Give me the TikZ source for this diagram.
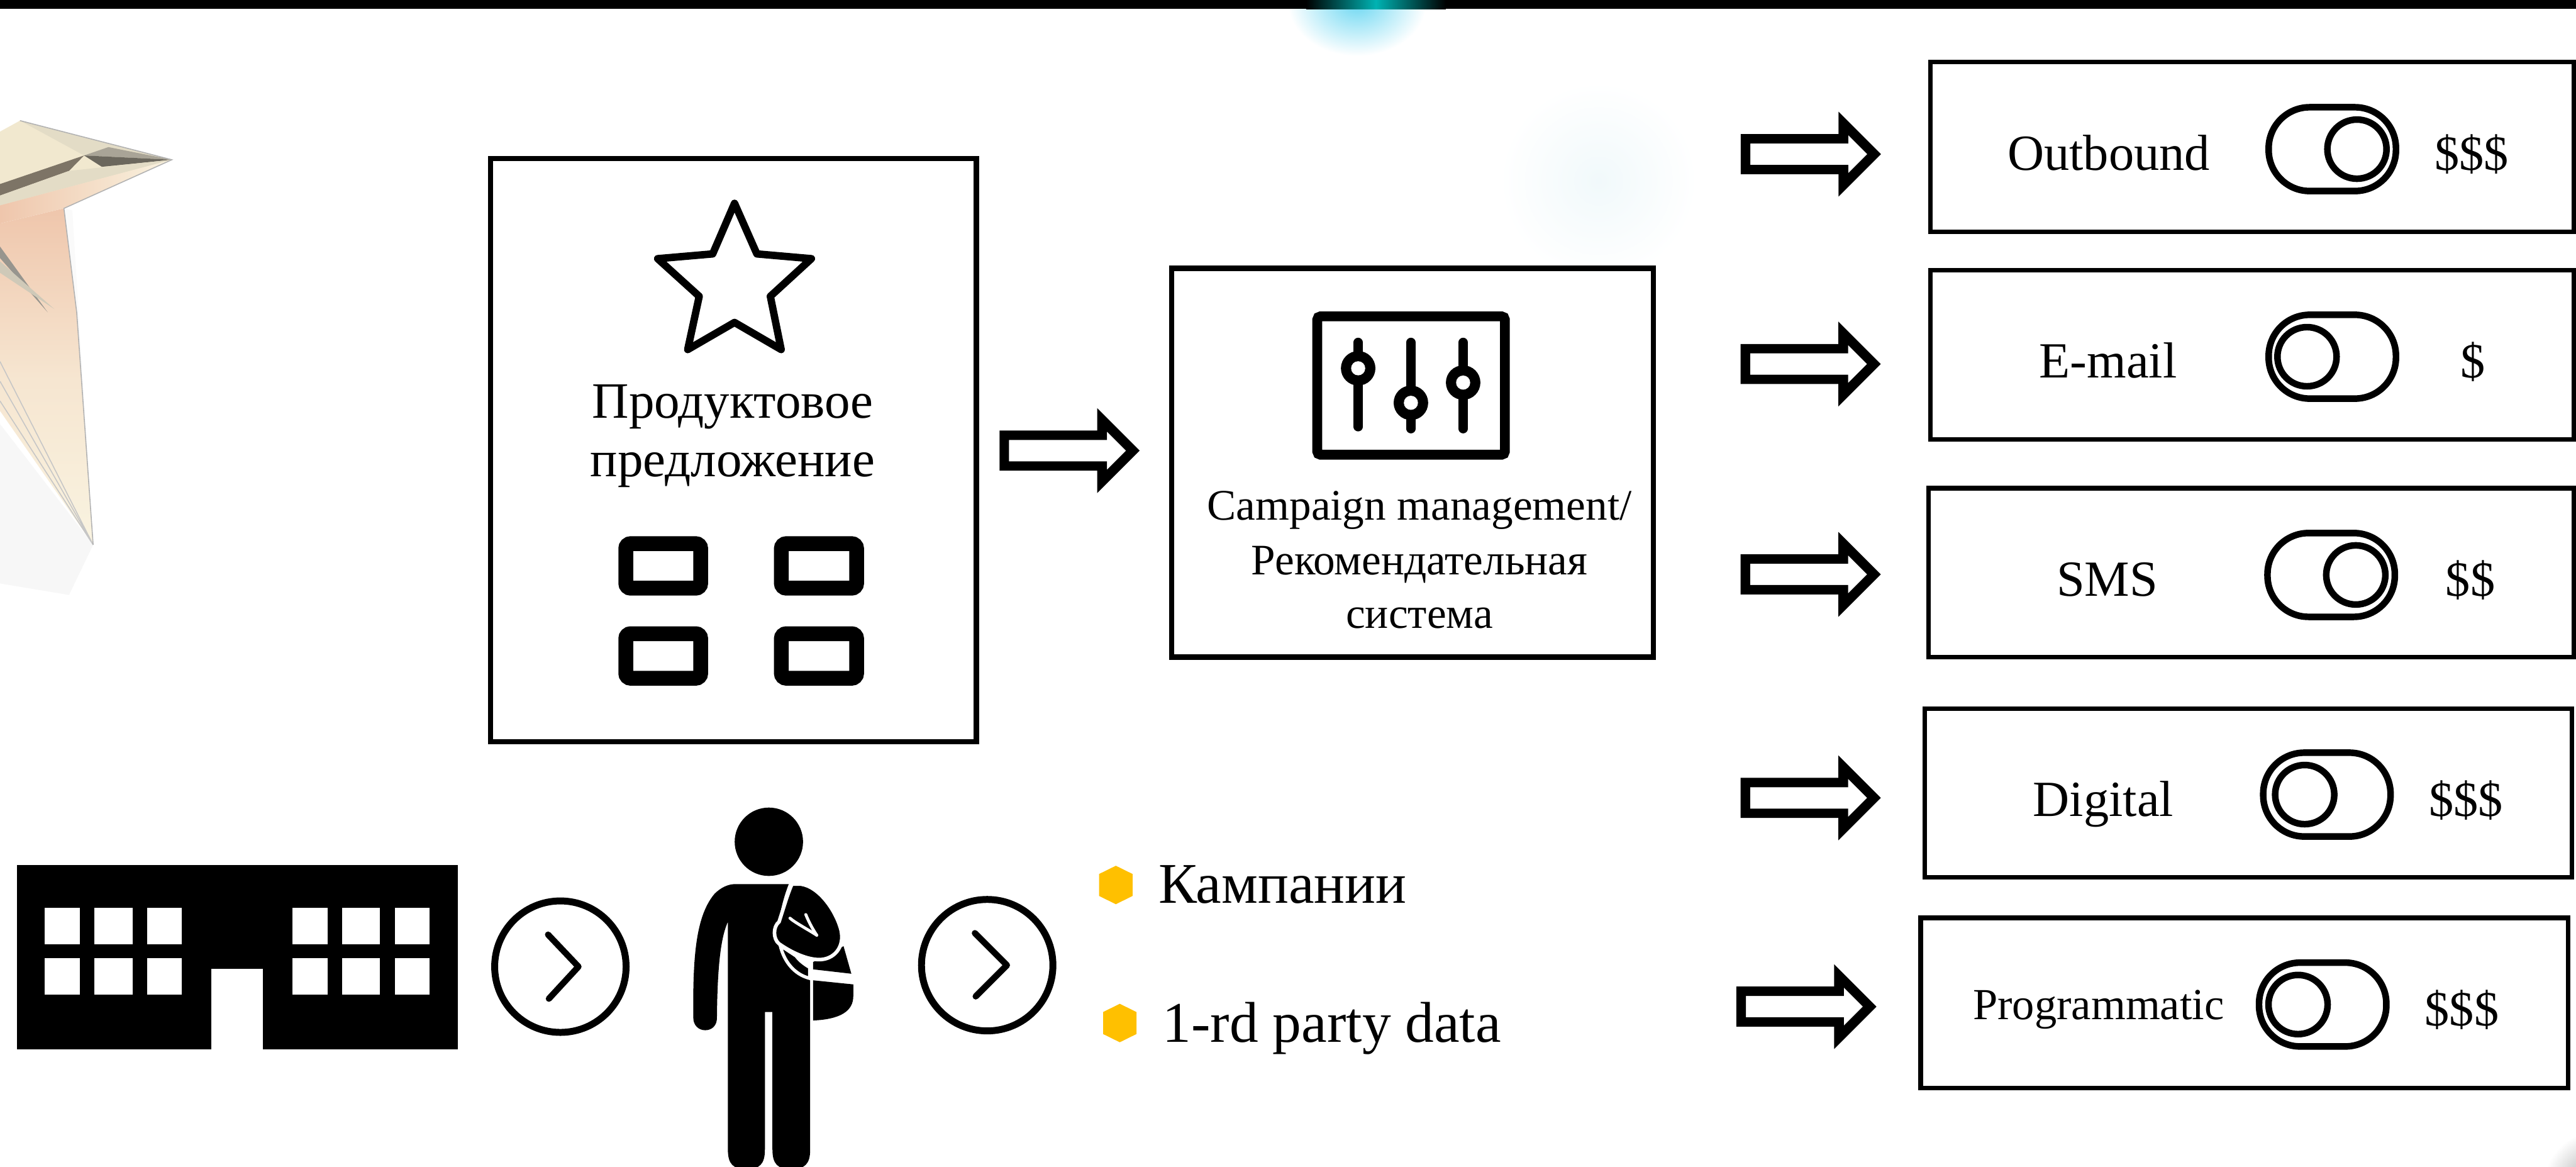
\documentclass[tikz,border=0pt]{standalone}
\usepackage{fontspec}
\setmainfont{Liberation Serif}
\usetikzlibrary{calc}
\definecolor{bulletyellow}{HTML}{FFC000}
\definecolor{cream}{HTML}{F9F3E0}
\definecolor{creamB}{HTML}{F1E8CF}
\definecolor{peach}{HTML}{EFC6AC}
\definecolor{facetdark}{HTML}{6B675D}
\definecolor{facetmid}{HTML}{A9A497}
\definecolor{facetwedge}{HTML}{7D7466}
\definecolor{facetlight}{HTML}{E3DCC6}
\definecolor{glowcyan}{HTML}{6FD8F2}
\definecolor{glowfaint}{HTML}{F1F9FB}

\tikzset{
  blockarr/.pic={
    \fill[black, even odd rule]
      (0,-12.2) -- (59.5,-12.2) -- (59.5,-25.8) -- (85.3,0) -- (59.5,25.8) -- (59.5,12.2) -- (0,12.2) -- cycle
      (5.8,-6.5) -- (65.4,-6.5) -- (65.4,-11.6) -- (77.0,0) -- (65.4,11.6) -- (65.4,6.5) -- (5.8,6.5) -- cycle;
  }
}

\begin{document}
\begin{tikzpicture}[x=1pt, y=-1pt,
  panel/.style={draw=black, line width=3.3pt, inner sep=0pt, outer sep=0pt},
  chan/.style={draw=black, line width=2.8pt, inner sep=0pt, outer sep=0pt},
  toggle/.style={draw=black, line width=4pt, minimum width=77.5pt, minimum height=51pt, rounded corners=25pt, inner sep=0pt},
  knob/.style={circle, draw=black, line width=4pt, minimum size=36pt, inner sep=0pt},
  ring/.style={circle, draw=black, line width=4.2pt, minimum size=80pt, inner sep=0pt},
  chev/.style={line width=3.8pt, line cap=round, line join=round},
  chlabel/.style={anchor=base, inner sep=0pt, font=\fontsize{30.8}{36}\selectfont},
  smlabel/.style={anchor=base, inner sep=0pt, font=\fontsize{27}{32}\selectfont},
  price/.style={anchor=base, inner sep=0pt, font=\fontsize{30}{36}\selectfont},
  potext/.style={anchor=base, inner sep=0pt, font=\fontsize{31}{36}\selectfont},
  cmtext/.style={anchor=base, inner sep=0pt, font=\fontsize{26.5}{32}\selectfont},
  bltext/.style={anchor=base west, inner sep=0pt, font=\fontsize{35}{42}\selectfont},
  gridcell/.style={draw=black, line width=9pt, rounded corners=3pt},
  slider/.style={line width=5.6pt, line cap=round},
  hexbullet/.style={fill=bulletyellow}
]
\useasboundingbox (0,0) rectangle (1568,710);
\fill[white] (0,0) rectangle (1568,710);

% soft glows
\shade[inner color=glowcyan, outer color=white] (826,2) ellipse [x radius=42pt, y radius=32pt];
\shade[inner color=glowfaint, outer color=white] (973,110) circle[radius=60pt];
\shade[inner color=gray!75, outer color=white] (1582,722) circle[radius=34pt];

% top band
\fill[black] (0,0) rectangle (1568,5.5);
\shade[left color=black, right color=black, middle color=teal!60!cyan] (795,0) rectangle (880,5.5);

% crystal ornament, upper left
\fill[gray!6] (0,258) -- (56.7,331.5) -- (42,362) -- (0,355) -- cycle;
\shade[top color=peach, bottom color=cream, middle color=cream!70!peach] (0,136) -- (38.9,126.8) -- (46.7,190.2) -- (56.7,331.5) -- (0,250) -- cycle;
\fill[white!96!gray] (38.9,126.8) -- (44,128) -- (56.7,331.5) -- (46.7,190.2) -- cycle;
\fill[creamB] (0,80.1) -- (12.2,73.4) -- (104.6,97.2) -- (38.9,126.8) -- (0,134) -- cycle;
\fill[facetlight] (12.2,73.4) -- (104.6,97.2) -- (51.2,94.6) -- cycle;
\fill[facetmid] (51.2,94.6) -- (104.6,97.2) -- (66,89.5) -- cycle;
\fill[facetdark] (51.2,94.6) -- (104.6,97.2) -- (62,101.5) -- cycle;
\fill[facetwedge] (51.2,94.6) -- (0,112) -- (0,119) -- (42,104) -- cycle;
\fill[facetlight] (42,104) -- (104.6,97.2) -- (0,125) -- (0,119) -- cycle;
\shade[left color=peach, right color=cream] (0,125) -- (104.6,97.2) -- (38.9,126.8) -- (0,136) -- cycle;
\fill[facetdark!70!white] (0,150) -- (29,190) -- (0,157) -- cycle;
\fill[facetlight!80!gray] (0,159) -- (33,188) -- (0,166) -- cycle;
\draw[gray!45, line width=0.6pt] (0,220) -- (56.7,331.5) (0,232) -- (56.7,331.5) (0,244) -- (56.7,331.5);
\draw[gray!60, line width=0.6pt] (12.2,73.4) -- (104.6,97.2) -- (38.9,126.8) -- (46.7,190.2) -- (56.7,331.5);

% product offer panel
\node[panel, minimum width=295.7pt, minimum height=354.9pt] (offer) at (446.5,273.9) {};
\draw[line width=4.5pt, line join=round]
  (447.1,123.7) -- (460.7,154.5) -- (493.9,157.4) -- (468.9,180.3) -- (475.5,212.7)
  -- (447.1,196.2) -- (418.6,212.7) -- (425.6,180.3) -- (400.3,157.4) -- (433.8,154.5) -- cycle;
\node[potext] (po1) at (446,254.5) {Продуктовое};
\node[potext] (po2) at (446,290) {предложение};
\draw[gridcell] (380.9,330.8) rectangle (426.5,357.9);
\draw[gridcell] (475.6,330.8) rectangle (521.4,357.9);
\draw[gridcell] (380.9,385.6) rectangle (426.5,412.7);
\draw[gridcell] (475.6,385.6) rectangle (521.4,412.7);

% campaign management panel
\node[panel, minimum width=293.3pt, minimum height=236.4pt] (campaign) at (859.8,281.55) {};
\draw[line width=6pt, rounded corners=2pt] (801.8,192.5) rectangle (916,276.7);
\draw[slider] (826.7,208.3) -- (826.7,259.7);
\draw[slider] (858.8,208.3) -- (858.8,260.9);
\draw[slider] (890.6,208.3) -- (890.6,260.9);
\foreach \kx/\ky in {826.7/224.1, 858.8/245.1, 890.6/232.8} {
  \fill[black] (\kx,\ky) circle[radius=10.5pt];
  \fill[white] (\kx,\ky) circle[radius=4.3pt];
}
\node[cmtext] (cm1) at (864,316.2) {Campaign management/};
\node[cmtext] (cm2) at (864,349.6) {Рекомендательная};
\node[cmtext] (cm3) at (864,382.1) {система};

% arrow from offer to campaign management
\coordinate (a0) at (608.4,274.2);
\pic at (a0) {blockarr};

% channel panels
\node[chan, minimum width=391.5pt, minimum height=103.4pt] (ch1) at (1370.85,89.3) {};
\node[chan, minimum width=391.5pt, minimum height=103.2pt] (ch2) at (1370.85,215.9) {};
\node[chan, minimum width=392.6pt, minimum height=102.8pt] (ch3) at (1370.3,348.5) {};
\node[chan, minimum width=393.7pt, minimum height=102.7pt] (ch4) at (1368.55,482.45) {};
\node[chan, minimum width=394pt, minimum height=103.6pt] (ch5) at (1366.1,610.3) {};

\coordinate (a1) at (1059.6,93.8);
\coordinate (a2) at (1059.5,221.5);
\coordinate (a3) at (1059.5,349.5);
\coordinate (a4) at (1059.5,485.5);
\coordinate (a5) at (1056.9,612.5);
\foreach \c in {a1,a2,a3,a4,a5} { \pic at (\c) {blockarr}; }

\node[chlabel] (l1) at (1283.6,103.4) {Outbound};
\node[chlabel] (l2) at (1283.2,229.8) {E-mail};
\node[chlabel] (l3) at (1282.7,362.7) {SMS};
\node[chlabel] (l4) at (1280.3,496.6) {Digital};
\node[smlabel] (l5) at (1277.4,620.2) {Programmatic};

\node[toggle] (tg1) at (1419.65,90.75) {};
\node[toggle] (tg2) at (1419.65,217.05) {};
\node[toggle] (tg3) at (1418.95,349.85) {};
\node[toggle] (tg4) at (1416.35,483.5) {};
\node[toggle] (tg5) at (1413.8,611.25) {};
\node[knob] (kn1) at ($(tg1.center)+(15,0)$) {};
\node[knob] (kn2) at ($(tg2.center)+(-15.4,0)$) {};
\node[knob] (kn3) at ($(tg3.center)+(15,0)$) {};
\node[knob] (kn4) at ($(tg4.center)+(-13.5,0)$) {};
\node[knob] (kn5) at ($(tg5.center)+(-15,0)$) {};

\node[price] (p1) at (1504.5,103.4) {\$\$\$};
\node[price] (p2) at (1505.2,229.8) {\$};
\node[price] (p3) at (1503.7,362.7) {\$\$};
\node[price] (p4) at (1501,496.6) {\$\$\$};
\node[price] (p5) at (1498.5,624.3) {\$\$\$};

% building
\fill[black] (10.2,526.4) rectangle (278.6,638.7);
\fill[white] (128.5,589.4) rectangle (160,640);
\foreach \wx/\ww in {27.2/21.3, 57.4/23.2, 89.5/21, 178/21.3, 208.2/23.2, 240.3/21.3}
  \foreach \wy/\wh in {552.3/22.3, 583.2/21.9}
    \fill[white] (\wx,\wy) rectangle ++(\ww,\wh);

% chevron circles
\node[ring] (c1) at (341.1,588.2) {};
\draw[chev] ($(c1.center)+(-7.5,-19.5)$) -- ($(c1.center)+(11,0)$) -- ($(c1.center)+(-7,19.5)$);
\node[ring] (c2) at (600.9,587.3) {};
\draw[chev] ($(c2.center)+(-7.5,-19.5)$) -- ($(c2.center)+(12,0)$) -- ($(c2.center)+(-7,19)$);

% person with shoulder bag
\fill[black] (468,512.2) circle[radius=20.8pt];
\fill[black] (447.51,537.96) -- (480.11,537.96)
  .. controls (477.15,545.37) and (474.93,554.26) .. (474.19,560.93)
  -- (474.19,574.27)
  .. controls (476.41,583.9) and (482.34,592.8) .. (493.15,595.76)
  -- (493.15,699.5)
  .. controls (493.15,708.4) and (489.75,711.4) .. (481.6,711.4)
  .. controls (473.44,711.4) and (470.18,708.4) .. (470.18,699.5)
  -- (470.18,615.77) -- (465.59,615.77) -- (465.59,699.5)
  .. controls (465.59,708.4) and (462.33,711.4) .. (454.33,711.4)
  .. controls (446.32,711.4) and (443.06,708.4) .. (443.06,699.5)
  -- (443.06,560.93)
  .. controls (439.36,569.08) and (436.69,583.9) .. (436.39,619.47)
  .. controls (436.39,623.9) and (433.43,626.88) .. (429.28,626.88)
  .. controls (425.28,626.88) and (422.02,623.9) .. (422.02,619.47)
  .. controls (421.57,580.9) and (423.8,557.2) .. (434.91,543.89)
  .. controls (438.62,540.19) and (443.06,537.96) .. (447.51,537.96) -- cycle;
% bag flap and bag body
\fill[black] (494.93,585.39) -- (513.46,575.75) -- (518.2,592.5) -- (494.93,589.83) -- cycle;
\fill[black] (494.93,596.5) -- (519.39,599.0) -- (519.39,606.1)
  .. controls (519.39,615.0) and (512,620.2) .. (494.93,620.95) -- cycle;
% strap running down to the bag
\filldraw[fill=black, draw=white, line width=2pt] (474.93,575.31)
  .. controls (477.15,584.65) and (483.08,592.8) .. (492.86,595.32)
  -- (492.86,588.65)
  .. controls (489.75,586.87) and (486.78,584.65) .. (484.56,581.68)
  -- cycle;
% bent arm holding the strap
\filldraw[fill=black, draw=white, line width=2.2pt] (482.04,537.96) -- (487.52,537.96)
  .. controls (498.64,539.44) and (509.01,554.26) .. (511.98,566.12)
  .. controls (514.2,576.49) and (507.53,583.9) .. (498.64,583.9)
  .. controls (489.75,583.9) and (479.37,577.98) .. (474.19,574.27)
  .. controls (470.48,571.31) and (470.48,563.9) .. (474.19,560.93)
  .. controls (476.41,554.26) and (479.37,543.89) .. (482.04,537.96) -- cycle;
\draw[white, line width=1.8pt, line cap=round]
  (480.85,558.71) .. controls (483.82,561.38) and (492.71,566.12) .. (497.16,569.08);
\draw[white, line width=1.8pt, line cap=round]
  (490.49,556.49) .. controls (491.97,560.19) and (494.19,564.64) .. (497.16,569.08);

% bullets
\fill[hexbullet] (679.2,538.5) ++(0,-11.7) -- ++(10.15,5.0) -- ++(0,13.4) -- ++(-10.15,5.0) -- ++(-10.15,-5.0) -- ++(0,-13.4) -- cycle;
\fill[hexbullet] (681.6,622.5) ++(0,-11.7) -- ++(10.15,5.0) -- ++(0,13.4) -- ++(-10.15,5.0) -- ++(-10.15,-5.0) -- ++(0,-13.4) -- cycle;
\node[bltext] (b1) at (705,549.4) {Кампании};
\node[bltext] (b2) at (707.5,634.3) {1-rd party data};
\end{tikzpicture}
\end{document}
